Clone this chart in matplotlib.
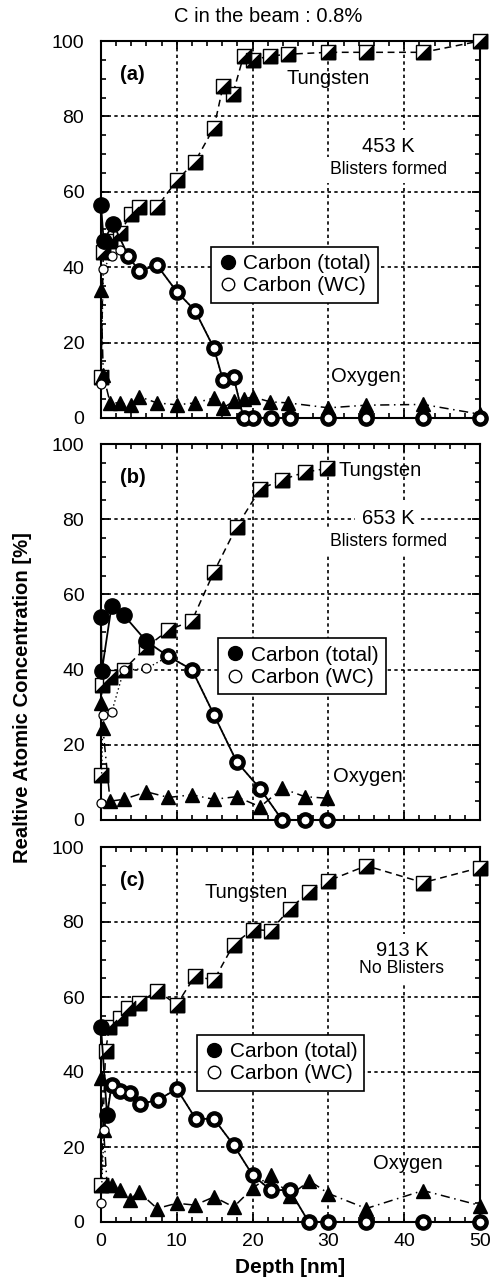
import matplotlib
matplotlib.use("Agg")
import matplotlib.pyplot as plt
from matplotlib.lines import Line2D
from matplotlib.ticker import MultipleLocator

plt.rcParams["font.family"] = ["Liberation Sans", "DejaVu Sans"]

# ---- panel (a) 453 K ----
w_x_a = [0, 0.3, 1.2, 2.5, 3.9, 5.0, 7.4, 10, 12.4, 14.9, 16.1, 17.4, 18.8, 20, 22.3, 24.7, 30, 35, 42.5, 50]
w_y_a = [11, 44, 47, 49, 54, 56, 56, 63, 68, 77, 88, 86, 96, 95, 96, 96.5, 97, 97, 97, 100]
ct_x_a = [0, 0.35, 1.6, 3.6, 5, 7.4, 10, 12.4, 14.9, 16.1, 17.5, 18.8, 20, 22.4, 24.9, 30, 35, 42.5, 50]
ct_y_a = [56.5, 47, 51.5, 43, 39, 40.5, 33.5, 28.5, 18.5, 10, 10.8, 0, 0, 0, 0, 0, 0, 0, 0]
cw_x_a = [0, 0.3, 1.4, 2.5, 3.6, 5, 7.4, 10, 12.4, 14.9, 16.1, 17.5, 18.8, 20, 22.4, 24.9, 30, 35, 42.5, 50]
cw_y_a = [9, 39.5, 43, 44.5, 43, 39, 40.5, 33.5, 28.5, 18.5, 10, 10.8, 0, 0, 0, 0, 0, 0, 0, 0]
o_x_a = [0, 0.3, 1.2, 2.5, 3.9, 5, 7.4, 10, 12.4, 14.9, 16.1, 17.5, 18.8, 20, 22.3, 24.7, 30, 35, 42.5, 50]
o_y_a = [34, 11.5, 4, 4, 3.5, 5.7, 4, 3.5, 4, 5.3, 2.7, 4.4, 5, 5.6, 4.3, 4, 2.7, 3.4, 3.6, 1]

# ---- panel (b) 653 K ----
w_x_b = [0, 0.1, 1.2, 3, 6, 8.9, 12, 14.9, 17.9, 21, 23.9, 26.9, 29.8]
w_y_b = [12, 36, 38, 40, 46, 50.5, 53, 66, 78, 88, 90.5, 92.5, 93.5]
ct_x_b = [0, 0.1, 1.4, 3, 6, 8.9, 12, 14.9, 17.9, 21, 23.9, 26.9, 29.8]
ct_y_b = [54, 39.5, 57, 54.5, 47.5, 43.5, 40, 28, 15.5, 8.3, 0, 0, 0]
cw_x_b = [0, 0.25, 1.4, 3, 6, 8.9, 12, 14.9, 17.9, 21, 23.9, 26.9, 29.8]
cw_y_b = [4.6, 28, 28.6, 39.8, 40.3, 43.5, 40, 28, 15.5, 8.3, 0, 0, 0]
o_x_b = [0, 0.25, 1.2, 3, 6, 8.9, 12, 14.9, 17.9, 21, 23.9, 26.9, 29.8]
o_y_b = [31, 24.5, 5, 5.5, 7.5, 6, 6.7, 5.5, 6.2, 3.5, 8.4, 6.2, 5.8]

# ---- panel (c) 913 K ----
w_x_c = [0, 0.6, 1.1, 2.5, 3.6, 5, 7.4, 10, 12.4, 14.9, 17.5, 20, 22.4, 24.9, 27.4, 30, 35, 42.5, 50]
w_y_c = [10, 45.5, 52, 54.5, 57, 58.5, 61.6, 58, 65.6, 64.5, 74, 78, 77.7, 83.5, 88, 91, 95, 90.5, 94.5]
ct_x_c = [0, 0.8, 1.4, 2.5, 3.8, 5.1, 7.5, 10, 12.5, 14.9, 17.5, 20, 22.4, 24.9, 27.4, 30, 35, 42.5, 50]
ct_y_c = [52, 28.5, 36.5, 35, 34.5, 31.5, 32.5, 35.5, 27.5, 27.5, 20.5, 12.5, 8.5, 8.5, 0, 0, 0, 0, 0]
cw_x_c = [0, 0.4, 1.4, 2.5, 3.8, 5.1, 7.5, 10, 12.5, 14.9, 17.5, 20, 22.4, 24.9, 27.4, 30, 35, 42.5, 50]
cw_y_c = [5, 24.5, 36.5, 35, 34.5, 31.5, 32.5, 35.5, 27.5, 27.5, 20.5, 12.5, 8.5, 8.5, 0, 0, 0, 0, 0]
o_x_c = [0, 0.35, 0.8, 1.4, 2.5, 3.8, 5, 7.4, 10, 12.4, 14.9, 17.5, 20, 22.4, 24.9, 27.5, 30, 35, 42.5, 50]
o_y_c = [38.5, 24.5, 10, 10, 8.5, 6, 8, 3.6, 5, 4.5, 6.7, 4, 9, 12.5, 7, 11, 7.6, 3.6, 8.4, 4.4]

panel_tags = ["(a)", "(b)", "(c)"]
temps = ["453 K", "653 K", "913 K"]
notes = ["Blisters formed", "Blisters formed", "No Blisters"]

# lower-right half of a square for the W markers
half_sq = [(-1, -1), (1, -1), (1, 1), (-1, -1)]


def draw_panel(ax, w_x, w_y, ct_x, ct_y, cw_x, cw_y, o_x, o_y):
    ax.plot(w_x, w_y, ls=(0, (4.5, 3)), color="k", lw=1.1, zorder=3)
    ax.plot(w_x, w_y, ls="none", marker="s", ms=10.5, mfc="white", mec="k",
            mew=1, zorder=4, clip_on=False)
    ax.plot(w_x, w_y, ls="none", marker=half_sq, ms=10.5, mfc="k", mec="k",
            mew=0.8, zorder=4, clip_on=False)
    ax.plot(o_x, o_y, ls=(0, (6, 3, 1, 3)), color="k", lw=1.1, marker="^",
            ms=10, mfc="k", mec="k", zorder=5, clip_on=False)
    ax.plot(ct_x, ct_y, ls="-", color="k", lw=1.3, marker="o", ms=11,
            mfc="k", mec="k", zorder=6, clip_on=False)
    ax.plot(cw_x, cw_y, ls=(0, (1, 2)), color="k", lw=1, marker="o", ms=6.5,
            mfc="white", mec="k", mew=0.9, zorder=7, clip_on=False)

    ax.set_xlim(0, 50)
    ax.set_ylim(0, 100)
    ax.xaxis.set_major_locator(MultipleLocator(10))
    ax.xaxis.set_minor_locator(MultipleLocator(2))
    ax.yaxis.set_major_locator(MultipleLocator(20))
    ax.yaxis.set_minor_locator(MultipleLocator(5))
    ax.grid(True, which="major", color="k", ls=(0, (2, 2)), lw=1.2)
    ax.tick_params(which="both", direction="in", top=True, right=True)
    ax.tick_params(which="major", length=6, width=1.3, labelsize=14, pad=12)
    ax.tick_params(axis="x", which="major", pad=8)
    ax.tick_params(which="minor", length=3.5, width=1.2)
    for sp in ax.spines.values():
        sp.set_linewidth(1.5)


fig = plt.figure(figsize=(4.92, 12.86), dpi=100)
left, width = 101 / 492, 379 / 492
tops = [41, 444, 847]
bottoms = [418, 820, 1222]

data = [
    (w_x_a, w_y_a, ct_x_a, ct_y_a, cw_x_a, cw_y_a, o_x_a, o_y_a),
    (w_x_b, w_y_b, ct_x_b, ct_y_b, cw_x_b, cw_y_b, o_x_b, o_y_b),
    (w_x_c, w_y_c, ct_x_c, ct_y_c, cw_x_c, cw_y_c, o_x_c, o_y_c),
]

# text spots in data coords: tungsten, temperature, note, oxygen
tung_pos = [(24.5, 90), (31.3, 93), (13.7, 88)]
temp_pos = [(37.9, 72), (37.9, 80.2), (39.7, 72.4)]
note_pos = [(37.9, 65.8), (37.9, 74), (39.7, 67.5)]
oxy_pos = [(30.4, 11), (30.6, 11.5), (35.9, 15.5)]
leg_anchor = [(0.29, 0.454), (0.31, 0.483), (0.254, 0.499)]

for i in range(3):
    ax = fig.add_axes([left, 1 - bottoms[i] / 1286, width,
                       (bottoms[i] - tops[i]) / 1286])
    draw_panel(ax, *data[i])
    if i < 2:
        ax.tick_params(axis="x", labelbottom=False)

    ax.text(0.05, 0.91, panel_tags[i], transform=ax.transAxes,
            fontsize=14.5, fontweight="bold", va="center", ha="left")
    ax.text(*tung_pos[i], "Tungsten", fontsize=14.5, va="center", ha="left",
            zorder=8)
    ax.text(*temp_pos[i], temps[i], fontsize=14.5, va="center", ha="center",
            zorder=8, bbox=dict(fc="white", ec="none", pad=5))
    ax.text(*note_pos[i], notes[i], fontsize=12.7, va="center", ha="center",
            zorder=8, bbox=dict(fc="white", ec="none", pad=3))
    ax.text(*oxy_pos[i], "Oxygen", fontsize=14.5, va="center", ha="left",
            zorder=8)

    handles = [
        Line2D([], [], ls="none", marker="o", ms=10, mfc="k", mec="k"),
        Line2D([], [], ls="none", marker="o", ms=9, mfc="white", mec="k", mew=1),
    ]
    leg = ax.legend(handles, ["Carbon (total)", "Carbon (WC)"],
                    loc="upper left", bbox_to_anchor=leg_anchor[i],
                    fontsize=15, frameon=True, fancybox=False, framealpha=1,
                    edgecolor="k", borderpad=0.35, handlelength=0.9,
                    handletextpad=0.3, labelspacing=0.15, borderaxespad=0)
    leg.get_frame().set_linewidth(1.2)
    leg.set_zorder(10)

    if i == 2:
        ax.set_xlabel("Depth [nm]", fontsize=15, fontweight="bold", labelpad=6)

fig.text(268 / 492, 1 - 17 / 1286, "C in the beam : 0.8%", fontsize=14.5,
         ha="center", va="center")
fig.text(23 / 492, 1 - 698 / 1286, "Realtive Atomic Concentration [%]",
         fontsize=14.6, fontweight="bold", rotation=90, ha="center", va="center")

fig.savefig("out.png", dpi=100)
